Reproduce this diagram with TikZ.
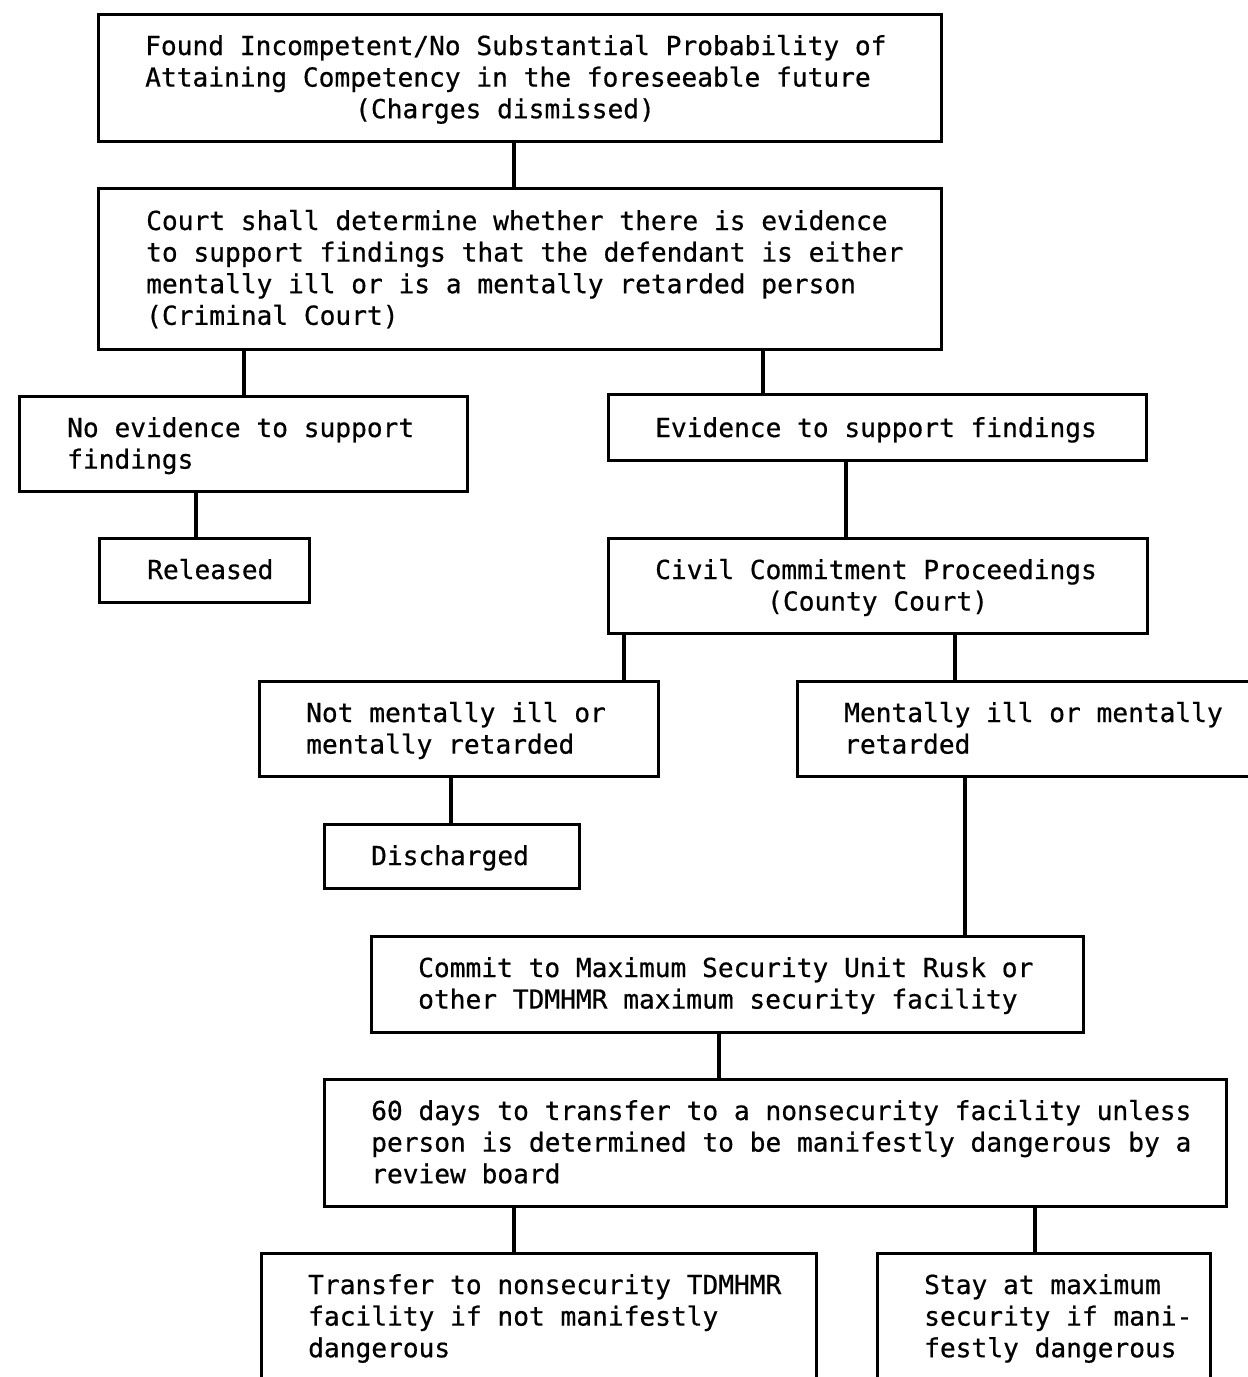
\documentclass[tikz,border=0pt]{standalone}
\usepackage{fontspec}
\setmonofont[FakeBold=0.6]{DejaVu Sans Mono}
\begin{document}
\begin{tikzpicture}[x=1pt,y=-1pt,
  box/.style={draw, line width=3pt, anchor=north west, inner sep=0pt},
  % multi-line labels sit on the baseline of their last line
  lbl/.style={anchor=base west, inner sep=0pt, align=left,
    font=\ttfamily\fontsize{26.2}{31.6}\selectfont},
  link/.style={line width=3.5pt}]
\useasboundingbox (0,0) rectangle (1248,1377);
\clip (0,0) rectangle (1248,1377);

% Boxes: corner at (left, top), sizes in px
\node[box, minimum width=843, minimum height=127] (b1) at (97,13) {};
\node[box, minimum width=843, minimum height=161] (b2) at (97,187) {};
\node[box, minimum width=448, minimum height=95]  (b3) at (18,395) {};
\node[box, minimum width=538, minimum height=66]  (b4) at (607,393) {};
\node[box, minimum width=210, minimum height=64]  (b5) at (98,537) {};
\node[box, minimum width=539, minimum height=95]  (b6) at (607,537) {};
\node[box, minimum width=399, minimum height=95]  (b7) at (258,680) {};
\node[box, minimum width=480, minimum height=95]  (b8) at (796,680) {};
\node[box, minimum width=255, minimum height=64]  (b9) at (323,823) {};
\node[box, minimum width=712, minimum height=96]  (b10) at (370,935) {};
\node[box, minimum width=902, minimum height=127] (b11) at (323,1078) {};
\node[box, minimum width=555, minimum height=140] (b12) at (260,1252) {};
\node[box, minimum width=333, minimum height=140] (b13) at (876,1252) {};

% Box texts (last-line baselines)
\node[lbl] (t1) at (145,118.2) {Found Incompetent/No Substantial Probability of\\
Attaining Competency in the foreseeable future\\
\hspace*{210pt}(Charges dismissed)};
\node[lbl] (t2) at (146,324.8) {Court shall determine whether there is evidence\\
to support findings that the defendant is either\\
mentally ill or is a mentally retarded person\\
(Criminal Court)};
\node[lbl] (t3) at (67,468.6) {No evidence to support\\findings};
\node[lbl] (t4) at (655,437) {Evidence to support findings};
\node[lbl] (t5) at (147,579) {Released};
\node[lbl] (t6) at (655,610.6) {Civil Commitment Proceedings\\
\hspace*{112pt}(County Court)};
\node[lbl] (t7) at (306,753.6) {Not mentally ill or\\mentally retarded};
\node[lbl] (t8) at (844,753.6) {Mentally ill or mentally\\retarded};
\node[lbl] (t9) at (371,865) {Discharged};
\node[lbl] (t10) at (418,1008.6) {Commit to Maximum Security Unit Rusk or\\
other TDMHMR maximum security facility};
\node[lbl] (t11) at (371,1183.2) {60 days to transfer to a nonsecurity facility unless\\
person is determined to be manifestly dangerous by a\\
review board};
\node[lbl] (t12) at (308,1357.2) {Transfer to nonsecurity TDMHMR\\
facility if not manifestly\\dangerous};
\node[lbl] (t13) at (924,1357.2) {Stay at maximum\\security if mani-\\festly dangerous};

% Connectors
\draw[link] (b1.south -| 514,0) -- (b2.north -| 514,0);
\draw[link] (b2.south -| 244,0) -- (b3.north -| 244,0);
\draw[link] (b2.south -| 763,0) -- (b4.north -| 763,0);
\draw[link] (b3.south -| 196,0) -- (b5.north -| 196,0);
\draw[link] (b4.south -| 846,0) -- (b6.north -| 846,0);
\draw[link] (b6.south -| 624,0) -- (b7.north -| 624,0);
\draw[link] (b6.south -| 955,0) -- (b8.north -| 955,0);
\draw[link] (b7.south -| 451,0) -- (b9.north -| 451,0);
\draw[link] (b8.south -| 965,0) -- (b10.north -| 965,0);
\draw[link] (b10.south -| 719,0) -- (b11.north -| 719,0);
\draw[link] (b11.south -| 514,0) -- (b12.north -| 514,0);
\draw[link] (b11.south -| 1035,0) -- (b13.north -| 1035,0);
\end{tikzpicture}
\end{document}
